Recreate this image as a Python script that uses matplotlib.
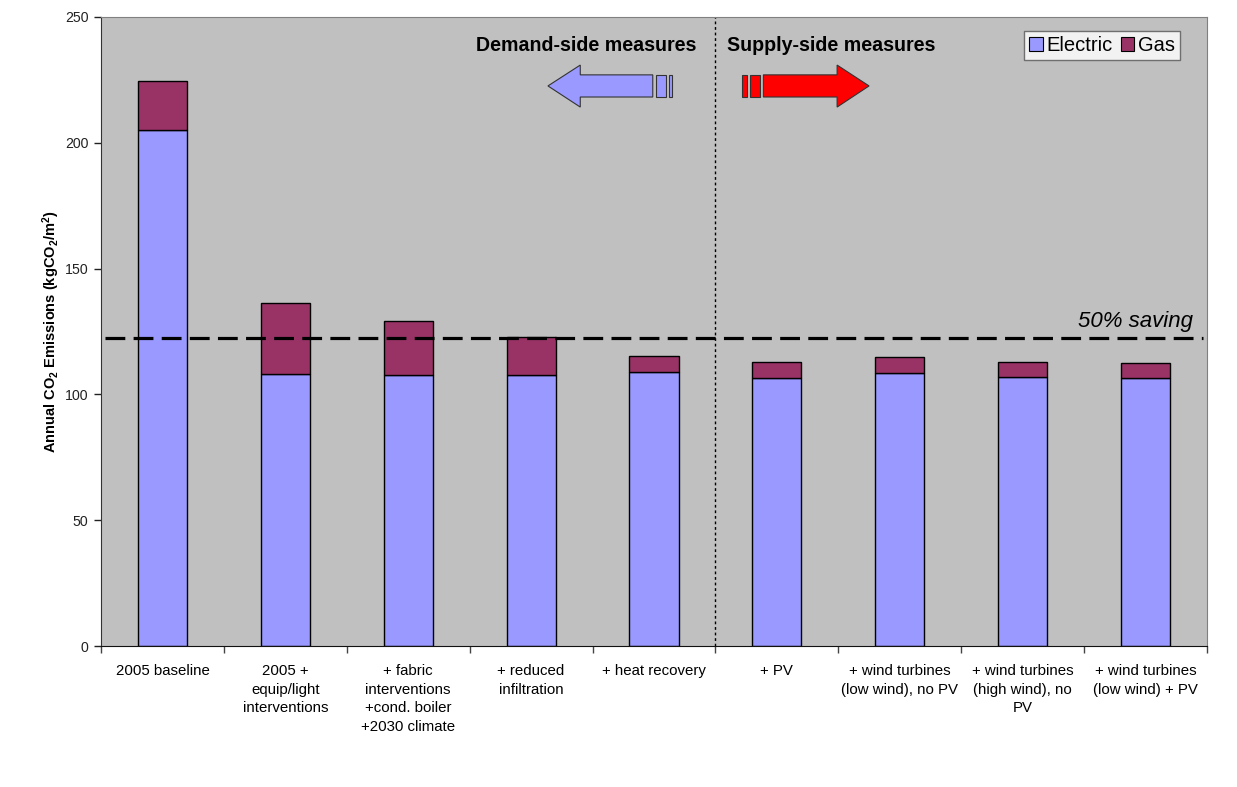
import matplotlib
matplotlib.use("Agg")
import matplotlib.pyplot as plt
from matplotlib.patches import Polygon, Rectangle, Patch
import numpy as np

plt.rcParams['font.family'] = ['Liberation Sans', 'DejaVu Sans']
plt.rcParams['mathtext.default'] = 'regular'

categories = [
    "2005 baseline",
    "2005 +\nequip/light\ninterventions",
    "+ fabric\ninterventions\n+cond. boiler\n+2030 climate",
    "+ reduced\ninfiltration",
    "+ heat recovery",
    "+ PV",
    "+ wind turbines\n(low wind), no PV",
    "+ wind turbines\n(high wind), no\nPV",
    "+ wind turbines\n(low wind) + PV",
]
electric = [205.0, 108.1, 107.7, 107.7, 108.9, 106.5, 108.5, 106.9, 106.5]
gas = [19.6, 28.2, 21.5, 15.1, 6.4, 6.4, 6.4, 6.0, 6.0]
saving_level = 122.3
y_ticks = [0, 50, 100, 150, 200, 250]

ELEC_COLOR = "#9999FF"
GAS_COLOR = "#993366"
BG_COLOR = "#C0C0C0"

fig = plt.figure(figsize=(12.37, 7.87), dpi=100)
ax = fig.add_axes([101 / 1237, 1 - 646 / 787, (1207 - 101) / 1237, (646 - 17) / 787])
ax.set_facecolor(BG_COLOR)

x = np.arange(len(categories))
ax.bar(x, electric, width=0.4, color=ELEC_COLOR, edgecolor="black", linewidth=1.0, zorder=2)
ax.bar(x, gas, bottom=electric, width=0.4, color=GAS_COLOR, edgecolor="black", linewidth=1.0, zorder=2)

ax.set_xlim(-0.5, len(categories) - 0.5)
ax.set_ylim(0, 250)
ax.set_yticks(y_ticks)
ax.tick_params(axis="y", direction="out", length=5, width=1, labelsize=10.2, pad=4, colors="#222222")

# category boundaries carry the tick marks; labels sit at bar centres
ax.set_xticks(np.arange(-0.5, len(categories)), minor=False)
ax.set_xticklabels([])
ax.tick_params(axis="x", which="major", direction="out", length=5, width=1, color="#444444")
ax.set_xticks(x, minor=True)
ax.set_xticklabels(categories, minor=True, fontsize=10.8, linespacing=1.42, va="top")
ax.tick_params(axis="x", which="minor", length=0, pad=13)

for side in ("top", "right"):
    ax.spines[side].set_color("#808080")
ax.spines["left"].set_color("#333333")
ax.spines["bottom"].set_color("#111111")

# 50% saving threshold
ax.plot([-0.47, len(categories) - 0.53], [saving_level, saving_level], color="black",
        linestyle=(0, (6.2, 2.6)), linewidth=2.3, zorder=3)
ax.text(8.385, 126.8, "50% saving", fontsize=16, style="italic", ha="right", va="baseline")

# divider between demand-side and supply-side measures
ax.axvline(4.5, color="black", linestyle=(0, (2, 2)), linewidth=1.0, zorder=1)

ax.text(4.345, 238.8, "Demand-side measures", fontsize=14.1, fontweight="bold", ha="right", va="center")
ax.text(4.595, 238.8, "Supply-side measures", fontsize=14.1, fontweight="bold", ha="left", va="center")

# direction arrows
left_arrow = [(3.137, 222.6), (3.40, 230.9), (3.40, 227.0), (3.99, 227.0),
              (3.99, 218.2), (3.40, 218.2), (3.40, 214.2)]
ax.add_patch(Polygon(left_arrow, closed=True, facecolor=ELEC_COLOR, edgecolor="#333333", linewidth=0.8, zorder=4))
for x0, x1 in [(4.016, 4.097), (4.12, 4.146)]:
    ax.add_patch(Rectangle((x0, 218.2), x1 - x0, 8.8, facecolor=ELEC_COLOR, edgecolor="#333333", linewidth=0.8, zorder=4))

right_arrow = [(5.75, 222.6), (5.49, 230.9), (5.49, 227.0), (4.89, 227.0),
               (4.89, 218.2), (5.49, 218.2), (5.49, 214.2)]
ax.add_patch(Polygon(right_arrow, closed=True, facecolor="#FF0000", edgecolor="#333333", linewidth=0.8, zorder=4))
for x0, x1 in [(4.72, 4.76), (4.785, 4.86)]:
    ax.add_patch(Rectangle((x0, 218.2), x1 - x0, 8.8, facecolor="#FF0000", edgecolor="#333333", linewidth=0.8, zorder=4))

ax.set_ylabel("Annual CO$_2$ Emissions (kgCO$_2$/m$^2$)", fontsize=10.5, fontweight="bold", labelpad=2)

handles = [Patch(facecolor=ELEC_COLOR, edgecolor="black", linewidth=0.8, label="Electric"),
           Patch(facecolor=GAS_COLOR, edgecolor="black", linewidth=0.8, label="Gas")]
leg = ax.legend(handles=handles, loc="upper right", bbox_to_anchor=(0.9756, 0.978), ncol=2, fontsize=14.5,
                frameon=True, fancybox=False, edgecolor="#555555", handlelength=0.65, handleheight=0.65,
                handletextpad=0.2, columnspacing=0.4, borderpad=0.25, borderaxespad=0)
leg.get_frame().set_linewidth(1.0)

fig.savefig("out.png", dpi=100, facecolor="white")
